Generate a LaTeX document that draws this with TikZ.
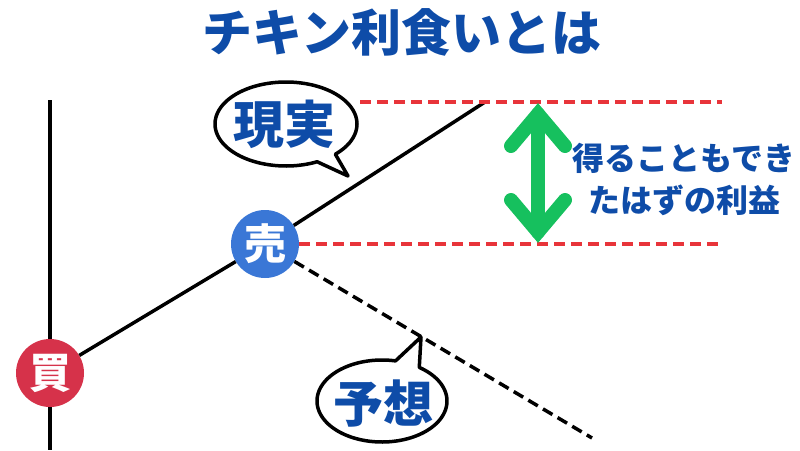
\documentclass[tikz,border=0pt]{standalone}
\usepackage{fontspec}
\usetikzlibrary{calc}
\newfontfamily\cjk{Noto Sans CJK JP}
\definecolor{tblue}{RGB}{14,76,168}
\definecolor{cblue}{RGB}{58,119,214}
\definecolor{cred}{RGB}{214,50,74}
\definecolor{dred}{RGB}{232,52,58}
\definecolor{agreen}{RGB}{22,192,94}
\tikzset{
  jp/.style={font=\cjk\bfseries, inner sep=0pt},
  bubble/.style={draw=black, fill=white, line width=3.5pt, line join=round},
  circ/.style={circle, minimum size=68pt, inner sep=0pt, text=white, font=\cjk\bfseries\fontsize{42}{42}\selectfont},
  reddash/.style={draw=dred, line width=3.5pt, dash pattern=on 11pt off 6pt},
  blackdash/.style={draw=black, line width=3.5pt, dash pattern=on 11pt off 6pt},
  garrow/.style={draw=agreen, line width=14pt, line cap=round, line join=miter}
}
\begin{document}
\begin{tikzpicture}[x=1pt,y=-1pt]
\useasboundingbox (0,0) rectangle (800,450);
% title
\node[jp, text=tblue, font=\cjk\bfseries\fontsize{50}{60}\selectfont] (title) at (402,32) {チキン利食いとは};
% coordinates
\coordinate (vtop) at (50,100);
\coordinate (vbot) at (50,450);
\coordinate (realend) at (485,102);
\coordinate (predend) at (592,438);
\coordinate (rtopl) at (360,102);
\coordinate (rtopr) at (722,102);
\coordinate (rbotr) at (722,244);
\coordinate (gtop) at (538,114);
\coordinate (gbot) at (538,232);
% vertical axis
\draw[line width=4.5pt] (vtop) -- (vbot);
% circles
\node[circ, fill=cred] (kai) at (50,373) {買};
\node[circ, fill=cblue] (uri) at (265,244) {売};
% lines
\draw[line width=3.5pt] (kai) -- (uri) -- (realend);
\draw[blackdash] (uri) -- (predend);
\draw[reddash] (rtopl) -- (rtopr);
\draw[reddash] (uri.east) -- (rbotr);
% green double arrow
\draw[garrow] (gtop) -- (gbot);
\draw[garrow] ($(gtop)+(-27,32)$) -- (gtop) -- ($(gtop)+(27,32)$);
\draw[garrow] ($(gbot)+(-27,-32)$) -- (gbot) -- ($(gbot)+(27,-32)$);
% right text
\node[jp, text=tblue, align=center, font=\cjk\bfseries\fontsize{32}{42}\selectfont] (gain) at (684,179) {得ることもでき\\たはずの利益};
% bubble: reality
\draw[bubble] plot[domain=64:406, samples=120, smooth] ({286+71*cos(\x)},{124+42*sin(\x)}) -- (348,176) -- cycle;
\node[jp, text=tblue, font=\cjk\bfseries\fontsize{51}{51}\selectfont] (real) at (284,124) {現実};
% bubble: prediction
\draw[bubble] plot[domain=-55:282, samples=120, smooth] ({382+65*cos(\x)},{401+41*sin(\x)}) -- (421,337) -- cycle;
\node[jp, text=tblue, font=\cjk\bfseries\fontsize{50}{50}\selectfont] (pred) at (383,404) {予想};
\end{tikzpicture}
\end{document}
